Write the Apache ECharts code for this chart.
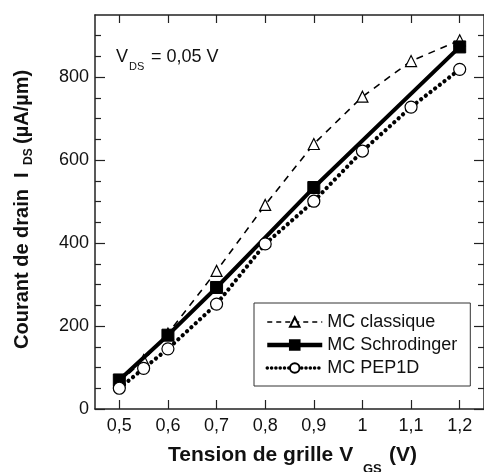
<!DOCTYPE html>
<html>
<head>
<meta charset="utf-8">
<script src="https://cdn.jsdelivr.net/npm/echarts@6/dist/echarts.min.js"></script>
<style>
html,body{margin:0;padding:0;background:#fff;}
#chart{width:484px;height:472px;}
</style>
</head>
<body>
<div id="chart"></div>
<script>
// ---- data ----
const xTicks = [0.5, 0.6, 0.7, 0.8, 0.9, 1.0, 1.1, 1.2];
const yMajor = [0, 200, 400, 600, 800];
const yMinor = [50, 100, 150, 250, 300, 350, 450, 500, 550, 650, 700, 750, 850, 900];

const classiqueX = [0.5, 0.55, 0.6, 0.7, 0.8, 0.9, 1.0, 1.1, 1.2];
const classiqueY = [65, 118, 182, 333, 492, 639, 753, 839, 889];

const schrodingerX = [0.5, 0.6, 0.7, 0.9, 1.2];
const schrodingerY = [70, 178, 293, 534, 873];

const pepX = [0.5, 0.55, 0.6, 0.7, 0.8, 0.9, 1.0, 1.1, 1.2];
const pepY = [50, 98, 145, 253, 398, 501, 622, 728, 819];

const seriesNames = ['MC classique', 'MC Schrodinger', 'MC PEP1D'];

function pairs(xs, ys) { return xs.map((x, i) => [x, ys[i]]); }

const INK = '#111';
const AXIS = '#222';
const FONT = 'Liberation Sans, Arial, Helvetica, sans-serif';

const chart = echarts.init(document.getElementById('chart'), null, {renderer: 'canvas'});

function xAx(pos, labels, len) {
  return {
    type: 'value', position: pos, min: 0.45, max: 1.25,
    axisLine: {show: true, onZero: false, lineStyle: {color: AXIS, width: 1.5}},
    axisTick: {show: true, inside: true, length: len, customValues: xTicks, lineStyle: {color: AXIS, width: 1.2}},
    axisLabel: labels ? {show: true, customValues: xTicks, fontSize: 18, fontFamily: FONT, color: INK, margin: 8,
      formatter: v => String(v).replace('.', ',')} : {show: false},
    splitLine: {show: false}
  };
}
function yAx(pos, vals, len, labels, line) {
  return {
    type: 'value', position: pos, min: 0, max: 950,
    axisLine: {show: line, onZero: false, lineStyle: {color: AXIS, width: 1.5}},
    axisTick: {show: true, inside: true, length: len, customValues: vals, lineStyle: {color: AXIS, width: 1.2}},
    axisLabel: labels ? {show: true, customValues: vals, fontSize: 18, fontFamily: FONT, color: INK, margin: 6} : {show: false},
    splitLine: {show: false}
  };
}

const option = {
  animation: false,
  backgroundColor: '#fff',
  grid: {left: 95, top: 15, width: 394, height: 394, containLabel: false},
  xAxis: [xAx('bottom', true, 9), xAx('top', false, 8)],
  yAxis: [
    yAx('left', yMajor, 10, true, true),
    yAx('left', yMinor, 6, false, false),
    yAx('right', yMajor, 10, false, true),
    yAx('right', yMinor, 6, false, false)
  ],
  legend: {
    orient: 'vertical', left: 254, top: 303,
    backgroundColor: '#fff',
    borderColor: '#333', borderWidth: 1,
    padding: [10, 13, 9, 11],
    itemWidth: 55, itemHeight: 12, itemGap: 5,
    textStyle: {fontSize: 18, fontFamily: FONT, color: INK},
    data: [
      {name: seriesNames[0], lineStyle: {width: 1.6, type: [5, 4]}},
      {name: seriesNames[1], lineStyle: {width: 4.5}},
      {name: seriesNames[2], lineStyle: {width: 3.5, type: [0.1, 4.2], cap: 'round'}}
    ]
  },
  series: [
    {
      name: seriesNames[0], type: 'line', xAxisIndex: 0, yAxisIndex: 0,
      data: pairs(classiqueX, classiqueY),
      symbol: 'triangle', symbolSize: 11,
      itemStyle: {color: '#fff', borderColor: '#000', borderWidth: 1.2},
      lineStyle: {color: '#000', width: 1.6, type: [7, 6]},
      z: 2
    },
    {
      name: seriesNames[1], type: 'line', xAxisIndex: 0, yAxisIndex: 0,
      data: pairs(schrodingerX, schrodingerY),
      symbol: 'rect', symbolSize: 12,
      itemStyle: {color: '#000', borderColor: '#000', borderWidth: 1},
      lineStyle: {color: '#000', width: 4, type: 'solid'},
      z: 3
    },
    {
      name: seriesNames[2], type: 'line', xAxisIndex: 0, yAxisIndex: 0,
      data: pairs(pepX, pepY),
      symbol: 'circle', symbolSize: 12,
      itemStyle: {color: '#fff', borderColor: '#000', borderWidth: 1.2},
      lineStyle: {color: '#000', width: 4.2, type: [0.1, 5.8], cap: 'round'},
      z: 4
    }
  ],
  graphic: [
    // x axis title
    {type: 'text', x: 168, y: 455, style: {text: 'Tension de grille V', font: 'bold 21px ' + FONT, fill: INK, align: 'left', verticalAlign: 'middle'}},
    {type: 'text', x: 363, y: 469, style: {text: 'GS', font: 'bold 13px ' + FONT, fill: INK, align: 'left', verticalAlign: 'middle'}},
    {type: 'text', x: 389, y: 455, style: {text: '(V)', font: 'bold 21px ' + FONT, fill: INK, align: 'left', verticalAlign: 'middle'}},
    // y axis title (rotated)
    {type: 'text', x: 22, y: 349, rotation: Math.PI / 2, style: {text: 'Courant de drain  I', font: 'bold 20px ' + FONT, fill: INK, align: 'left', verticalAlign: 'middle'}},
    {type: 'text', x: 29, y: 165, rotation: Math.PI / 2, style: {text: 'DS', font: 'bold 12px ' + FONT, fill: INK, align: 'left', verticalAlign: 'middle'}},
    {type: 'text', x: 22, y: 144, rotation: Math.PI / 2, style: {text: '(µA/µm)', font: 'bold 20px ' + FONT, fill: INK, align: 'left', verticalAlign: 'middle'}},
    // annotation
    {type: 'text', x: 116, y: 57, style: {text: 'V', font: '18px ' + FONT, fill: INK, align: 'left', verticalAlign: 'middle'}},
    {type: 'text', x: 129, y: 67, style: {text: 'DS', font: '11px ' + FONT, fill: INK, align: 'left', verticalAlign: 'middle'}},
    {type: 'text', x: 151, y: 57, style: {text: '= 0,05 V', font: '18px ' + FONT, fill: INK, align: 'left', verticalAlign: 'middle'}}
  ]
};
chart.setOption(option);
</script>
</body>
</html>
